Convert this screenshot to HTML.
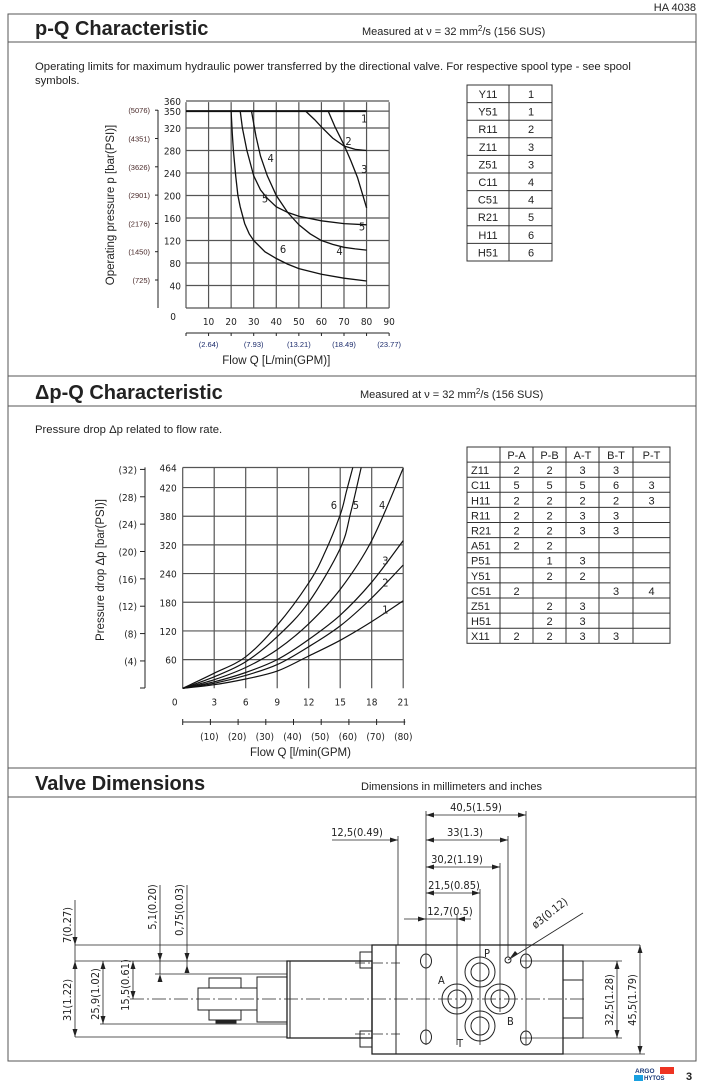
<!DOCTYPE html>
<html><head><meta charset="utf-8"><style>
html,body{margin:0;padding:0;background:#fff;}
svg{display:block;font-family:"Liberation Sans",sans-serif;}
.n{font-family:"DejaVu Sans Condensed","Liberation Sans Narrow","Liberation Sans",sans-serif;}
</style></head><body>
<svg id="page" width="703" height="1089" viewBox="0 0 703 1089" xmlns="http://www.w3.org/2000/svg">
<rect width="703" height="1089" fill="#fff"/>
<text x="696" y="11" font-size="11" text-anchor="end" fill="#222">HA 4038</text>
<rect x="8" y="14" width="688" height="1047" fill="none" stroke="#555" stroke-width="1"/>
<line x1="8" y1="42" x2="696" y2="42" stroke="#555"/>
<line x1="8" y1="376" x2="696" y2="376" stroke="#555"/>
<line x1="8" y1="406" x2="696" y2="406" stroke="#555"/>
<line x1="8" y1="768" x2="696" y2="768" stroke="#555"/>
<line x1="8" y1="797" x2="696" y2="797" stroke="#555"/>
<text x="35" y="35" font-size="20" font-weight="bold" fill="#222">p-Q Characteristic</text>
<text x="362" y="35" font-size="11" fill="#222">Measured at ν = 32 mm<tspan dy="-4" font-size="8">2</tspan><tspan dy="4">/s (156 SUS)</tspan></text>
<text font-size="11.3" fill="#222"><tspan x="35" y="70">Operating limits for maximum hydraulic power transferred by the directional valve. For respective spool type - see spool</tspan><tspan x="35" y="84">symbols.</tspan></text>
<text x="35" y="399" font-size="20" font-weight="bold" fill="#222">Δp-Q Characteristic</text>
<text x="360" y="398" font-size="11" fill="#222">Measured at ν = 32 mm<tspan dy="-4" font-size="8">2</tspan><tspan dy="4">/s (156 SUS)</tspan></text>
<text x="35" y="433" font-size="11.3" fill="#222">Pressure drop Δp related to flow rate.</text>
<text x="35" y="790" font-size="20" font-weight="bold" fill="#222">Valve Dimensions</text>
<text x="361" y="790" font-size="11" fill="#222">Dimensions in millimeters and inches</text>
<g id="pq"></g>
<g id="dpq"></g>
<g id="t1"></g>
<g id="t2"></g>

<g stroke="#222" fill="none" stroke-width="1">
 <rect x="372" y="945" width="191" height="109" stroke-width="1.3"/>
 <line x1="396" y1="945" x2="396" y2="1054"/>
 <rect x="360" y="952" width="12" height="16"/>
 <rect x="360" y="1031" width="12" height="16"/>
 <rect x="287" y="961" width="85" height="77" stroke-width="1.3"/>
 <line x1="290" y1="961" x2="290" y2="1038"/>
 <rect x="257" y="977" width="30" height="45"/>
 <rect x="209" y="978" width="32" height="42"/>
 <rect x="198" y="988" width="59" height="22" fill="#fff"/>
 <rect x="216" y="1020" width="20" height="3" fill="#222"/>
 <rect x="563" y="961" width="20" height="77"/>
 <line x1="563" y1="980" x2="583" y2="980"/><line x1="563" y1="1018" x2="583" y2="1018"/>
 <line x1="130" y1="999" x2="585" y2="999" stroke-dasharray="14,3,2,3" stroke-width="0.8"/>
 <g><circle cx="480" cy="972" r="15"/><circle cx="480" cy="972" r="9"/></g>
 <g><circle cx="457" cy="999" r="15"/><circle cx="457" cy="999" r="9"/></g>
 <g><circle cx="500" cy="999" r="15"/><circle cx="500" cy="999" r="9"/></g>
 <g><circle cx="480" cy="1026" r="15"/><circle cx="480" cy="1026" r="9"/></g>
 <ellipse cx="426" cy="961" rx="5.5" ry="7"/><ellipse cx="426" cy="1037" rx="5.5" ry="7"/>
 <ellipse cx="526" cy="961" rx="5.5" ry="7"/><ellipse cx="526" cy="1038" rx="5.5" ry="7"/>
 <circle cx="508" cy="960" r="3"/>
 <line x1="355" y1="963" x2="400" y2="963" stroke-dasharray="10,3,2,3" stroke-width="0.7"/>
 <line x1="355" y1="1034" x2="400" y2="1034" stroke-dasharray="10,3,2,3" stroke-width="0.7"/>
 <g stroke-width="0.8">
 <line x1="426" y1="811" x2="426" y2="1045"/><line x1="526" y1="811" x2="526" y2="1045"/>
 <line x1="508" y1="836" x2="508" y2="957"/><line x1="500" y1="863" x2="500" y2="1012"/>
 <line x1="480" y1="889" x2="480" y2="1045"/><line x1="457" y1="915" x2="457" y2="1045"/>
 <line x1="398" y1="836" x2="398" y2="945"/>
 <line x1="75" y1="945" x2="640" y2="945"/><line x1="75" y1="961" x2="360" y2="961"/>
 <line x1="155" y1="974" x2="287" y2="974"/>
 <line x1="100" y1="1024" x2="287" y2="1024"/><line x1="75" y1="1037" x2="287" y2="1037"/>
 <line x1="520" y1="1038" x2="622" y2="1038"/><line x1="520" y1="961" x2="622" y2="961"/>
 <line x1="563" y1="1054" x2="645" y2="1054"/>
 <line x1="75" y1="900" x2="75" y2="1037"/><line x1="103" y1="961" x2="103" y2="1024"/>
 <line x1="133" y1="961" x2="133" y2="999"/><line x1="160" y1="885" x2="160" y2="974"/>
 <line x1="187" y1="885" x2="187" y2="970"/>
 <line x1="617" y1="961" x2="617" y2="1038"/><line x1="640" y1="945" x2="640" y2="1054"/>
 <line x1="426" y1="815" x2="526" y2="815"/><line x1="426" y1="840" x2="508" y2="840"/>
 <line x1="332" y1="840" x2="398" y2="840"/><line x1="426" y1="867" x2="500" y2="867"/>
 <line x1="426" y1="893" x2="480" y2="893"/><line x1="404" y1="919" x2="471" y2="919"/>
 <line x1="583" y1="913" x2="508" y2="960"/>
 </g>
 <g fill="#222" stroke="none">
  <path d="M426 815l8-2.5v5zM526 815l-8-2.5v5zM426 840l8-2.5v5zM508 840l-8-2.5v5zM398 840l-8-2.5v5zM426 867l8-2.5v5zM500 867l-8-2.5v5zM426 893l8-2.5v5zM480 893l-8-2.5v5zM426 919l-8-2.5v5zM457 919l8-2.5v5z"/>
  <path d="M75 945l-2.5-8h5zM75 961l-2.5 8h5zM75 1037l-2.5-8h5zM103 961l-2.5 8h5zM103 1024l-2.5-8h5zM133 961l-2.5 8h5zM133 999l-2.5-8h5zM160 961l-2.5-8h5zM160 974l-2.5 8h5zM187 961l-2.5-8h5zM187 965l-2.5 8h5z"/>
  <path d="M617 961l-2.5 8h5zM617 1038l-2.5-8h5zM640 945l-2.5 8h5zM640 1054l-2.5-8h5zM510 958l5-7 3 3z"/>
 </g>
</g>
<g font-size="11" fill="#222" class="n">
 <text x="476" y="811" text-anchor="middle">40,5(1.59)</text>
 <text x="465" y="836" text-anchor="middle">33(1.3)</text>
 <text x="357" y="836" text-anchor="middle">12,5(0.49)</text>
 <text x="457" y="863" text-anchor="middle">30,2(1.19)</text>
 <text x="454" y="889" text-anchor="middle">21,5(0.85)</text>
 <text x="450" y="915" text-anchor="middle">12,7(0.5)</text>
 <text transform="translate(71,925) rotate(-90)" text-anchor="middle">7(0.27)</text>
 <text transform="translate(71,1000) rotate(-90)" text-anchor="middle">31(1.22)</text>
 <text transform="translate(99,994) rotate(-90)" text-anchor="middle">25,9(1.02)</text>
 <text transform="translate(129,985) rotate(-90)" text-anchor="middle">15,5(0.61)</text>
 <text transform="translate(156,907) rotate(-90)" text-anchor="middle">5,1(0.20)</text>
 <text transform="translate(183,910) rotate(-90)" text-anchor="middle">0,75(0.03)</text>
 <text transform="translate(613,1000) rotate(-90)" text-anchor="middle">32,5(1.28)</text>
 <text transform="translate(636,1000) rotate(-90)" text-anchor="middle">45,5(1.79)</text>
 <text transform="translate(552,916) rotate(-38)" text-anchor="middle">ø3(0.12)</text>
 <text x="484" y="957">P</text><text x="438" y="984">A</text><text x="507" y="1025">B</text><text x="457" y="1047">T</text>
</g>
<g>
 <rect x="660" y="1067" width="14" height="7" fill="#e32"/>
 <rect x="634" y="1075" width="9" height="6" fill="#19a0e0"/>
 <text x="635" y="1073" font-size="6.5" font-weight="bold" fill="#1a3a7a">ARGO</text>
 <text x="644" y="1080" font-size="6" font-weight="bold" fill="#1a3a7a">HYTOS</text>
</g>
<text x="686" y="1080" font-size="11" font-weight="bold" fill="#222">3</text>
</svg>
<script>
const NS='http://www.w3.org/2000/svg';
function mk(p,t,a){const e=document.createElementNS(NS,t);for(const k in a)e.setAttribute(k,a[k]);p.appendChild(e);return e;}
function txt(p,x,y,s,a){const e=mk(p,'text',Object.assign({x:x,y:y,fill:'#222'},a||{}));e.textContent=s;return e;}

// ===== p-Q chart data =====
const pqXTicks=[10,20,30,40,50,60,70,80,90];
const pqYTicks=[40,80,120,160,200,240,280,320,350];
const pqPsiLabels=['(725)','(1450)','(2176)','(2901)','(3626)','(4351)','(5076)'];
const pqPsiAt=[50,100,150,200,250,300,350];
const pqGpmLabels=['(2.64)','(7.93)','(13.21)','(18.49)','(23.77)'];
const pqGpmAt=[10,30,50,70,90];
const pq1Q=[0,80], pq1P=[350,350];
const pq2Q=[53,57,60,65,70,75,80], pq2P=[350,335,322,302,288,282,280];
const pq3Q=[63,66,70,73,76,80], pq3P=[350,322,290,262,232,178];
const pq4Q=[29,31,33,36,40,45,50,55,60,65,70,75,80], pq4P=[350,305,270,235,200,170,148,132,120,113,108,105,103];
const pq5Q=[24,25,27,30,33,36,40,45,50,60,70,80], pq5P=[350,320,280,235,210,195,180,170,163,155,150,148];
const pq6Q=[20,20.5,21,22,23,24,26,28,30,35,40,45,50,60,70,80], pq6P=[350,310,280,235,200,180,150,132,120,100,88,78,70,60,53,48];
const pqLabels=['1','2','3','4','5','5','4','6'];
const pqLabelQ=[79,72,79,37.5,35,78,68,43];
const pqLabelP=[330,290,240,260,188,138,94,98];

const X=q=>186+q*2.257, Y=p=>308-p*0.5625;
const g1=document.getElementById('pq');
for(const t of [0,...pqXTicks]){const l=mk(g1,'line',{x1:X(t),y1:Y(350)-9,x2:X(t),y2:Y(0),stroke:'#555','stroke-width':1.2});

}
for(const t of pqYTicks.concat([360])){const l=mk(g1,'line',{x1:X(0),y1:t==360?Y(0)-207:Y(t),x2:X(90),y2:t==360?Y(0)-207:Y(t),stroke:'#555','stroke-width':1.2});

}
mk(g1,'line',{x1:X(0),y1:Y(0),x2:X(90),y2:Y(0),stroke:'#555','stroke-width':1.2});
for(const t of pqYTicks){const e=txt(g1,X(0)-5,Y(t)+4,String(t),{'font-size':10,'text-anchor':'end',class:'n'});

}
txt(g1,X(0)-5,Y(350)-6,'360',{'font-size':10,'text-anchor':'end',class:'n'});
txt(g1,X(0)-10,Y(0)+12,'0',{'font-size':10,'text-anchor':'end',class:'n'});
for(const t of pqXTicks){const e=txt(g1,X(t),Y(0)+17,String(t),{'font-size':10,'text-anchor':'middle',class:'n'});

}
mk(g1,'line',{x1:158,y1:110,x2:158,y2:308,stroke:'#222'});
const YS=v=>308-(v-50)*0.566-28; // psi label scale (50->280, 350->110)
pqPsiLabels.forEach((s,i)=>{const y=YS(pqPsiAt[i]);
mk(g1,'line',{x1:155,y1:y,x2:158,y2:y,stroke:'#222'});
const e=txt(g1,150,y+3,s,{'font-size':7.5,'text-anchor':'end',fill:'#4a2a2a'});

});
mk(g1,'line',{x1:X(0),y1:333,x2:X(90),y2:333,stroke:'#222'});
for(let t=0;t<=90;t+=10)mk(g1,'line',{x1:X(t),y1:333,x2:X(t),y2:336,stroke:'#222'});
pqGpmLabels.forEach((s,i)=>{const e=txt(g1,X(pqGpmAt[i]),347,s,{'font-size':7.5,'text-anchor':'middle',fill:'#1a2a6a'});

});
const ax1=txt(g1,X(40),364,'Flow Q [L/min(GPM)]',{'font-size':11.5,'text-anchor':'middle'});


const ay1=txt(g1,0,0,'Operating pressure p  [bar(PSI)]',{'font-size':11.5,'text-anchor':'middle',transform:'translate(114,205) rotate(-90)'});


[[pq1Q,pq1P],[pq2Q,pq2P],[pq3Q,pq3P],[pq4Q,pq4P],[pq5Q,pq5P],[pq6Q,pq6P]].forEach((c,i)=>{
 const d=c[0].map((q,j)=>(j?'L':'M')+X(q).toFixed(1)+' '+Y(c[1][j]).toFixed(1)).join('');
 const p=mk(g1,'path',{d:d,fill:'none',stroke:'#111','stroke-width':i==0?2:1.3});
 
 });
pqLabels.forEach((s,i)=>{const e=txt(g1,X(pqLabelQ[i]),Y(pqLabelP[i]),s,{'font-size':11,'text-anchor':'middle',class:'n'});

});

// ===== dp-Q chart data =====
const dqXTicks=[3,6,9,12,15,18,21];
const dqGridV=[4,8,12,16,20,24,28,30.8];
const dqGridLabels=['60','120','180','240','320','380','420','464'];
const dqPsiLabels=['(4)','(8)','(12)','(16)','(20)','(24)','(28)','(32)'];
const dqPsiV=[4,8,12,16,20,24,28,32];
const dqLpmLabels=['(10)','(20)','(30)','(40)','(50)','(60)','(70)','(80)'];
const dqQ=[0,3,6,9,12,15,18,21];
const dq1=[0,0.5,1.3,2.4,4.5,6.7,9.3,12.2];
const dq2=[0,0.7,1.8,3.3,5.8,8.7,12.6,17.2];
const dq3=[0,0.9,2.2,4.0,6.8,10.2,14.8,20.6];
const dq4=[0,1.2,2.9,5.4,9.0,13.8,20.6,30.7];
const dq5Q=[0,3,6,9,12,15,16,17], dq5=[0,1.6,3.7,7.2,12,19.5,24.5,30.8];
const dq6Q=[0,3,6,9,12,13.5,15,15.6,16.2], dq6=[0,2.1,4.4,8.8,14.7,18.8,24.2,27.5,30.8];
const dqLabels=['6','5','4','3','2','1'];
const dqLabelQ=[14.4,16.5,19,19.3,19.3,19.3];
const dqLabelV=[25,25,25,17.3,14.2,10.4];

const XD=q=>182.7+q*10.5, YD=v=>688.3-v*7.17, YP=v=>688.3-v*6.84;
const g2=document.getElementById('dpq');
for(const t of [0,...dqXTicks]){const l=mk(g2,'line',{x1:XD(t),y1:YD(30.8),x2:XD(t),y2:YD(0),stroke:'#555','stroke-width':1.2});

}
dqGridV.forEach((v,i)=>{const l=mk(g2,'line',{x1:XD(0),y1:YD(v),x2:XD(21),y2:YD(v),stroke:'#555','stroke-width':1.2});


const e=txt(g2,XD(0)-6,YD(v)+4,dqGridLabels[i],{'font-size':10,'text-anchor':'end',class:'n'});

});
txt(g2,XD(0)-8,YD(0)+17,'0',{'font-size':10,'text-anchor':'middle',class:'n'});
for(const t of dqXTicks){const e=txt(g2,XD(t),YD(0)+17,String(t),{'font-size':10,'text-anchor':'middle',class:'n'});

}
mk(g2,'line',{x1:145,y1:YP(32)-2,x2:145,y2:688,stroke:'#222'});
mk(g2,'line',{x1:140,y1:688,x2:145,y2:688,stroke:'#222'});
dqPsiLabels.forEach((s,i)=>{const y=YP(dqPsiV[i]);
mk(g2,'line',{x1:140,y1:y,x2:145,y2:y,stroke:'#222'});
const e=txt(g2,137,y+4,s,{'font-size':10,'text-anchor':'end',class:'n'});

});
mk(g2,'line',{x1:XD(0),y1:722,x2:XD(21.2),y2:722,stroke:'#222'});
for(let i=0;i<=8;i++)mk(g2,'line',{x1:XD(0)+i*27.7,y1:719,x2:XD(0)+i*27.7,y2:725,stroke:'#222'});
dqLpmLabels.forEach((s,i)=>{const e=txt(g2,XD(0)+(i+1)*27.7-1,740,s,{'font-size':10,'text-anchor':'middle',class:'n'});

});
const ax2=txt(g2,250,756,'Flow Q  [l/min(GPM)',{'font-size':11.5});


const ay2=txt(g2,0,0,'Pressure drop Δp  [bar(PSI)]',{'font-size':11.5,'text-anchor':'middle',transform:'translate(104,570) rotate(-90)'});


function smooth(xs,ys){let d='M'+xs[0]+' '+ys[0];for(let i=1;i<xs.length;i++){const x0=xs[Math.max(i-2,0)],y0=ys[Math.max(i-2,0)],x1=xs[i-1],y1=ys[i-1],x2=xs[i],y2=ys[i],x3=xs[Math.min(i+1,xs.length-1)],y3=ys[Math.min(i+1,xs.length-1)];
d+='C'+(x1+(x2-x0)/6).toFixed(1)+' '+(y1+(y2-y0)/6).toFixed(1)+' '+(x2-(x3-x1)/6).toFixed(1)+' '+(y2-(y3-y1)/6).toFixed(1)+' '+x2.toFixed(1)+' '+y2.toFixed(1);}return d;}
[[dqQ,dq1],[dqQ,dq2],[dqQ,dq3],[dqQ,dq4],[dq5Q,dq5],[dq6Q,dq6]].forEach((c,i)=>{
 const p=mk(g2,'path',{d:smooth(c[0].map(XD),c[1].map(YD)),fill:'none',stroke:'#111','stroke-width':1.2});
 
 });
dqLabels.forEach((s,i)=>{const e=txt(g2,XD(dqLabelQ[i]),YD(dqLabelV[i]),s,{'font-size':11,'text-anchor':'middle',class:'n'});

});

// ===== tables =====
const t1Spools=['Y11','Y51','R11','Z11','Z51','C11','C51','R21','H11','H51'];
const t1Curves=['1','1','2','3','3','4','4','5','6','6'];
const g3=document.getElementById('t1');
const rh1=17.6;
mk(g3,'rect',{x:467,y:85,width:85,height:rh1*10,fill:'none',stroke:'#333'});
mk(g3,'line',{x1:509,y1:85,x2:509,y2:85+rh1*10,stroke:'#333'});
t1Spools.forEach((s,i)=>{const y=85+rh1*i;
if(i)mk(g3,'line',{x1:467,y1:y,x2:552,y2:y,stroke:'#333'});
const a=txt(g3,488,y+13,s,{'font-size':11,'text-anchor':'middle'});


const b=txt(g3,531,y+13,t1Curves[i],{'font-size':11,'text-anchor':'middle'});

});

const t2Head=['P-A','P-B','A-T','B-T','P-T'];
const t2Spools=['Z11','C11','H11','R11','R21','A51','P51','Y51','C51','Z51','H51','X11'];
const t2PA=['2','5','2','2','2','2','','','2','','','2'];
const t2PB=['2','5','2','2','2','2','1','2','','2','2','2'];
const t2AT=['3','5','2','3','3','','3','2','','3','3','3'];
const t2BT=['3','6','2','3','3','','','','3','','','3'];
const t2PT=['','3','3','','','','','','4','','',''];
const g4=document.getElementById('t2');
const cx=[467,500,533,566,599,633,670], rh2=15.1, y0=447;
mk(g4,'rect',{x:467,y:y0,width:203,height:rh2*13,fill:'none',stroke:'#333'});
cx.slice(1,6).forEach(x=>mk(g4,'line',{x1:x,y1:y0,x2:x,y2:y0+rh2*13,stroke:'#333'}));
for(let r=1;r<13;r++)mk(g4,'line',{x1:467,y1:y0+rh2*r,x2:670,y2:y0+rh2*r,stroke:'#333'});
t2Head.forEach((s,i)=>{const e=txt(g4,(cx[i+1]+cx[i+2])/2,y0+12,s,{'font-size':11,'text-anchor':'middle'});

});
const cols=[t2PA,t2PB,t2AT,t2BT,t2PT];
t2Spools.forEach((s,r)=>{const y=y0+rh2*(r+1)+12;
const e=txt(g4,471,y,s,{'font-size':11});


cols.forEach((c,j)=>{if(c[r]){const v=txt(g4,(cx[j+1]+cx[j+2])/2,y,c[r],{'font-size':11,'text-anchor':'middle'});

}});});
</script>
</body></html>
